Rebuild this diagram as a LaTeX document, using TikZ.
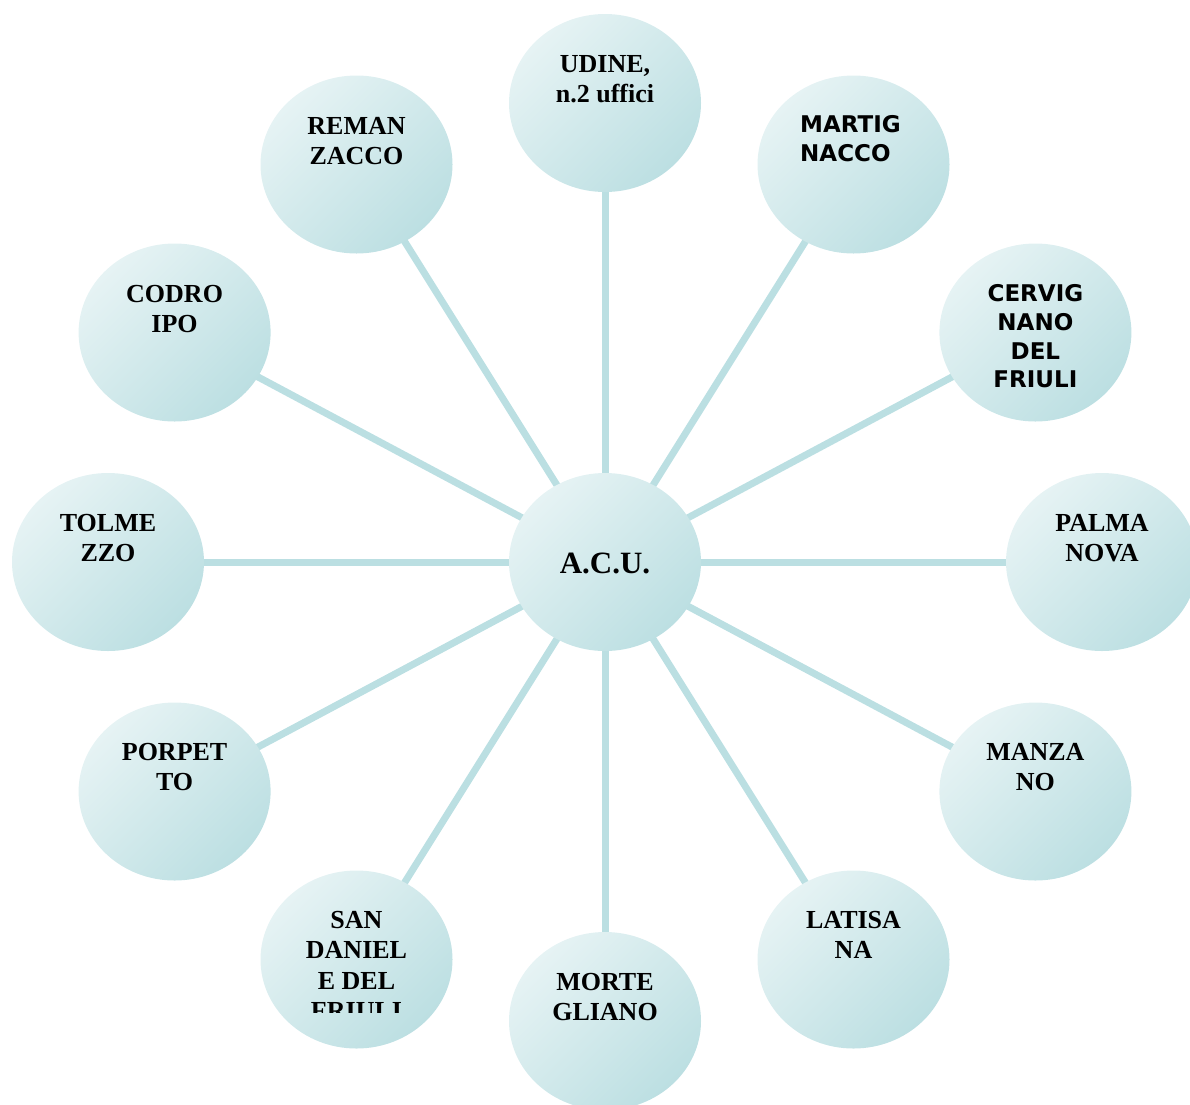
\documentclass[tikz,border=0pt]{standalone}
\usepackage{fontspec}
\setmainfont{Liberation Serif}
\newfontfamily\dvsans{DejaVu Sans}
\usetikzlibrary{shapes.geometric}
\pgfdeclarelayer{background}
\pgfsetlayers{background,main}
\definecolor{bubLight}{HTML}{E6F3F4}
\definecolor{bubDark}{HTML}{BCDFE2}
\definecolor{spoke}{HTML}{BBDFE2}
\begin{document}
\begin{tikzpicture}[x=1pt,y=-1pt,
  bubble/.style={ellipse, minimum width=192pt, minimum height=178pt, inner sep=0pt,
    top color=bubLight, bottom color=bubDark, shading angle=45, draw=none},
  serlab/.style={anchor=north, inner sep=0pt, align=center,
    font=\fontsize{26}{30.5}\selectfont\bfseries},
  sanlab/.style={anchor=north, inner sep=0pt, align=center,
    font=\fontsize{23}{28.7}\selectfont\dvsans\bfseries},
  spokeline/.style={draw=spoke, line width=7pt}]
\useasboundingbox (0,0) rectangle (1190,1104);
% bubbles
\node[bubble] (acu) at (605,562) {};
\node[bubble] (udine) at (605,103) {};
\node[bubble] (martig) at (853.5,164.5) {};
\node[bubble] (cervig) at (1035.4,332.5) {};
\node[bubble] (palma) at (1102,562) {};
\node[bubble] (manza) at (1035.4,791.5) {};
\node[bubble] (latisa) at (853.5,959.5) {};
\node[bubble] (morte) at (605,1021) {};
\node[bubble] (sandan) at (356.5,959.5) {};
\node[bubble] (porpet) at (174.6,791.5) {};
\node[bubble] (tolme) at (108,562) {};
\node[bubble] (codro) at (174.6,332.5) {};
\node[bubble] (reman) at (356.5,164.5) {};
% labels
\node[font=\fontsize{31}{36}\selectfont\bfseries, inner sep=0pt] (acu-t) at (605,563) {A.C.U.};
\node[serlab] (udine-t) at (605,55) {UDINE,\\n.2 uffici};
\node[sanlab, anchor=north west, align=left] (martig-t) at (800,115.5) {MARTIG\\NACCO};
\node[sanlab] (cervig-t) at (1035.4,284.5) {CERVIG\\NANO\\DEL\\FRIULI};
\node[serlab] (palma-t) at (1102,514) {PALMA\\NOVA};
\node[serlab] (manza-t) at (1035.4,743) {MANZA\\NO};
\node[serlab] (latisa-t) at (853.5,911) {LATISA\\NA};
\node[serlab] (morte-t) at (605,973) {MORTE\\GLIANO};
\begin{scope}
  \clip (250,880) rectangle (460,1012);
  \node[serlab] (sandan-t) at (356.5,911) {SAN\\DANIEL\\E DEL\\FRIULI};
\end{scope}
\node[serlab] (porpet-t) at (174.6,743) {PORPET\\TO};
\node[serlab] (tolme-t) at (108,514) {TOLME\\ZZO};
\node[serlab] (codro-t) at (174.6,285) {CODRO\\IPO};
\node[serlab] (reman-t) at (356.5,117) {REMAN\\ZACCO};
% spokes
\begin{pgfonlayer}{background}
  \foreach \n in {udine,martig,cervig,palma,manza,latisa,morte,sandan,porpet,tolme,codro,reman}
    \draw[spokeline] (acu.center) -- (\n.center);
\end{pgfonlayer}
\end{tikzpicture}
\end{document}
